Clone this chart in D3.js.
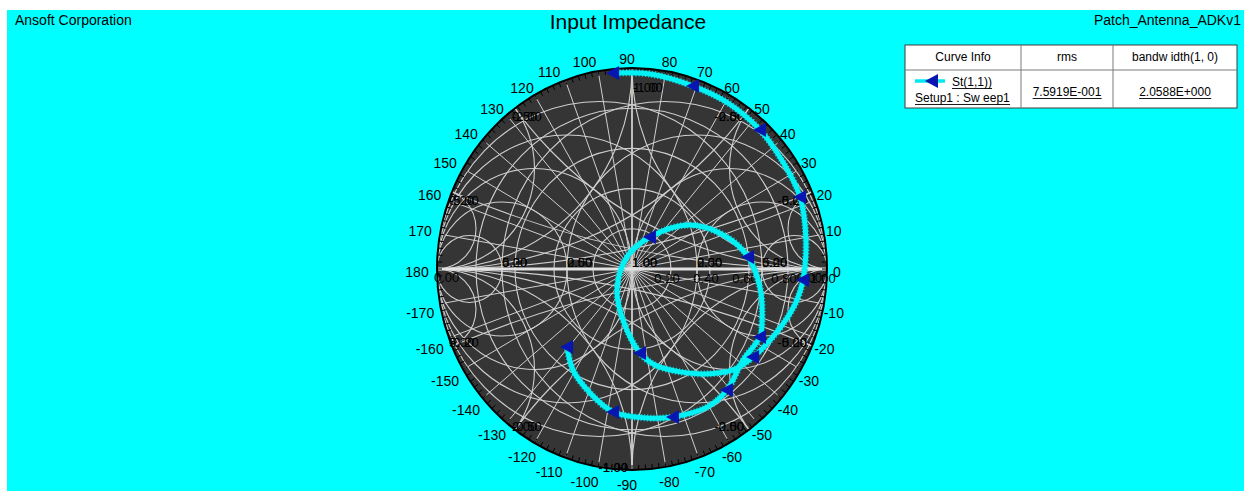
<!DOCTYPE html>
<html>
<head>
<meta charset="utf-8">
<script src="https://cdn.jsdelivr.net/npm/d3@7"></script>
<style>
  html, body { margin: 0; padding: 0; background: #ffffff; }
  svg { display: block; font-family: "Liberation Sans", Arial, sans-serif; }
</style>
</head>
<body>
<svg id="chart" width="1247" height="493"></svg>
<script>
// S(1,1) reflection coefficient trace (real / imaginary parts of Gamma)
const traceRe = [-0.097, 0.092, 0.313, 0.492, 0.656, 0.774, 0.862, 0.892, 0.877, 0.846,
                 0.795, 0.718, 0.621, 0.518, 0.374, 0.246, 0.118, 0.041, -0.046, -0.077,
                 -0.026, 0.092, 0.297, 0.487, 0.595, 0.656, 0.667, 0.656, 0.569, 0.487,
                 0.385, 0.210, 0.077, -0.097, -0.215, -0.303, -0.333];
const traceIm = [0.975, 0.970, 0.910, 0.826, 0.692, 0.532, 0.358, 0.144, -0.055, -0.154,
                 -0.244, -0.343, -0.438, -0.502, -0.522, -0.512, -0.478, -0.418, -0.254, -0.104,
                 0.060, 0.159, 0.219, 0.159, 0.060, -0.090, -0.254, -0.338, -0.453, -0.602,
                 -0.687, -0.736, -0.741, -0.711, -0.617, -0.502, -0.388];
// sweep points that carry a marker symbol
const markerIndex = [0, 2, 4, 6, 8, 12, 17, 21, 24, 27, 29, 31, 33, 36];

// Smith chart grid values
const gridValues = [0.2, 0.5, 1, 2, 5];
const rhoCircles = [0.2, 0.4, 0.6, 0.8];
const rhoLabels = [0.2, 0.4, 0.6, 0.8, 1.0];
const angleLabels = d3.range(-170, 181, 10);
const spokeAngles = d3.range(0, 360, 10);
const rimTicks = d3.range(0, 360, 2);

// legend content
const legendHeaders = ["Curve Info", "rms", "bandw idth(1, 0)"];
const legendCurve = ["St(1,1))", "Setup1 : Sw eep1"];
const legendValues = ["7.5919E-001", "2.0588E+000"];

const CX = 632, CY = 269, RX = 195, RY = 201;
const gx = d3.scaleLinear().domain([-1, 1]).range([CX - RX, CX + RX]);
const gy = d3.scaleLinear().domain([-1, 1]).range([CY + RY, CY - RY]);
const lenX = r => gx(r) - gx(0);
const lenY = r => gy(0) - gy(r);

const svg = d3.select("#chart");

// page background
svg.append("rect").attr("x", 7).attr("y", 10).attr("width", 1237).attr("height", 481)
  .attr("fill", "#00ffff");

svg.append("text").attr("x", 15).attr("y", 25).attr("font-size", 14).attr("fill", "#000")
  .text("Ansoft Corporation");
svg.append("text").attr("x", 628).attr("y", 29).attr("font-size", 21).attr("text-anchor", "middle")
  .attr("fill", "#000").text("Input Impedance");
svg.append("text").attr("x", 1241).attr("y", 25).attr("font-size", 14).attr("text-anchor", "end")
  .attr("fill", "#000").text("Patch_Antenna_ADKv1");

// ---------- legend table ----------
function underline(sel, y) {
  const bb = sel.node().getBBox();
  legend.append("line").attr("x1", bb.x).attr("x2", bb.x + bb.width)
    .attr("y1", y).attr("y2", y).attr("stroke", "#000").attr("stroke-width", 0.9);
}
const legend = svg.append("g");
legend.append("rect").attr("x", 905).attr("y", 45).attr("width", 332).attr("height", 63)
  .attr("fill", "#fff").attr("stroke", "#3c3c3c").attr("stroke-width", 1);
[1021, 1113].forEach(x => legend.append("line").attr("x1", x).attr("x2", x)
  .attr("y1", 45).attr("y2", 108).attr("stroke", "#7a7a7a"));
legend.append("line").attr("x1", 905).attr("x2", 1237).attr("y1", 70).attr("y2", 70)
  .attr("stroke", "#7a7a7a");
const colCenters = [963, 1067, 1175];
legendHeaders.forEach((h, i) => legend.append("text").attr("x", colCenters[i]).attr("y", 61)
  .attr("font-size", 12).attr("text-anchor", "middle").text(h));
legend.append("line").attr("x1", 915).attr("x2", 945).attr("y1", 81).attr("y2", 81)
  .attr("stroke", "#00e8f0").attr("stroke-width", 3.5);
legend.append("path").attr("transform", "translate(932,81)")
  .attr("d", "M-7,0L6,-7L6,7Z").attr("fill", "#0716b0");
const c1 = legend.append("text").attr("x", 952).attr("y", 86).attr("font-size", 12).text(legendCurve[0]);
underline(c1, 88.5);
const c2 = legend.append("text").attr("x", 915).attr("y", 102).attr("font-size", 12).text(legendCurve[1]);
underline(c2, 104.5);
legendValues.forEach((v, i) => {
  const t = legend.append("text").attr("x", colCenters[i + 1]).attr("y", 96).attr("font-size", 12)
    .attr("text-anchor", "middle").text(v);
  underline(t, 98.5);
});

// ---------- Smith chart ----------
const defs = svg.append("defs");
defs.append("clipPath").attr("id", "disc").append("ellipse")
  .attr("cx", gx(0)).attr("cy", gy(0)).attr("rx", lenX(1)).attr("ry", lenY(1));

svg.append("ellipse").attr("cx", gx(0)).attr("cy", gy(0)).attr("rx", lenX(1)).attr("ry", lenY(1))
  .attr("fill", "#353535");

const grid = svg.append("g").attr("clip-path", "url(#disc)")
  .attr("fill", "none").attr("stroke", "#cfcfcf").attr("stroke-width", 1.1);

function circle(c0, c1, r) {
  grid.append("ellipse").attr("cx", gx(c0)).attr("cy", gy(c1))
    .attr("rx", lenX(r)).attr("ry", lenY(r));
}

// polar spokes and constant |Gamma| circles
spokeAngles.forEach(a => {
  const t = a * Math.PI / 180;
  grid.append("line").attr("x1", gx(0)).attr("y1", gy(0))
    .attr("x2", gx(Math.cos(t))).attr("y2", gy(Math.sin(t)))
    .attr("stroke-width", (a === 90 || a === 270) ? 1.8 : 1);
});
rhoCircles.forEach(r => circle(0, 0, r));

// impedance (r, x) and admittance (g, b) circles
gridValues.forEach(v => {
  circle(v / (1 + v), 0, 1 / (1 + v));
  circle(-v / (1 + v), 0, 1 / (1 + v));
  circle(1, 1 / v, 1 / v);
  circle(1, -1 / v, 1 / v);
  circle(-1, 1 / v, 1 / v);
  circle(-1, -1 / v, 1 / v);
});
grid.append("line").attr("x1", gx(-1)).attr("x2", gx(1)).attr("y1", gy(0)).attr("y2", gy(0))
  .attr("stroke", "#e2e2e2").attr("stroke-width", 3);

// grid labels
const glab = svg.append("g").attr("font-size", 13).attr("fill", "#000");
const fmt = v => v.toFixed(2);
gridValues.forEach(v => {
  glab.append("text").attr("x", gx((v - 1) / (v + 1))).attr("y", gy(0) - 2).text(fmt(v));
  glab.append("text").attr("x", gx((1 - v) / (1 + v))).attr("y", gy(0) - 2).text(fmt(v));
});
rhoLabels.forEach(r => glab.append("text").attr("x", gx(r) - 4).attr("y", gy(0) + 14)
  .attr("text-anchor", "middle").text(fmt(r)));

function rimLabel(theta, txt) {
  const px = gx(Math.cos(theta)), py = gy(Math.sin(theta));
  const c = Math.cos(theta), s = Math.sin(theta);
  let x, y, anchor;
  if (Math.abs(c) < 1e-6) {
    if (s > 0) { x = px + 1; y = py + 24; anchor = "start"; }
    else { x = px - 4; y = py + 2; anchor = "end"; }
  } else {
    anchor = c < 0 ? "start" : "end";
    x = c < 0 ? px - 3 : px - 5;
    y = s > 1e-6 ? py + 13 : (s < -1e-6 ? py + 1 : py + 13);
  }
  glab.append("text").attr("x", x).attr("y", y).attr("text-anchor", anchor).text(txt);
}
gridValues.forEach(v => {
  const t = 2 * Math.atan(v);
  // reactance arcs
  rimLabel(Math.PI - t, fmt(v));
  rimLabel(-(Math.PI - t), "-" + fmt(v));
  // susceptance arcs
  rimLabel(t, "-" + fmt(v));
  rimLabel(-t, fmt(v));
});
rimLabel(Math.PI, "0.00");
rimLabel(0, "0.00");

// rim with degree ticks
const rim = svg.append("g").attr("stroke", "#000");
rim.append("ellipse").attr("cx", gx(0)).attr("cy", gy(0)).attr("rx", lenX(1)).attr("ry", lenY(1))
  .attr("fill", "none").attr("stroke-width", 2);
rimTicks.forEach(a => {
  const t = a * Math.PI / 180;
  const c = Math.cos(t), s = Math.sin(t);
  rim.append("line")
    .attr("x1", gx(c)).attr("y1", gy(s))
    .attr("x2", gx(c) - 5 * c).attr("y2", gy(s) + 5 * s)
    .attr("stroke-width", 1);
});

// angle labels around the chart
const alab = svg.append("g").attr("font-size", 14).attr("fill", "#000").attr("text-anchor", "middle");
angleLabels.forEach(a => {
  const t = a * Math.PI / 180;
  const c = Math.cos(t), s = Math.sin(t);
  let x = 627 + 210 * c;
  if (Math.abs(c) < 0.4 && Math.abs(c) > 1e-6) x += 6 * Math.sign(c);
  const b = 213 + 28 * Math.pow(c, 12);
  const y = 272 - b * s;
  alab.append("text").attr("x", x).attr("y", y).attr("dy", "0.36em").text(a);
});

// ---------- S(1,1) trace ----------
const pts = traceRe.map((r, i) => [gx(r), gy(traceIm[i])]);
const line = d3.line().curve(d3.curveCatmullRom.alpha(0.5));
svg.append("path").attr("d", line(pts)).attr("fill", "none")
  .attr("stroke", "#14c4d4").attr("stroke-width", 7).attr("stroke-dasharray", "1.2 2");
svg.append("path").attr("d", line(pts)).attr("fill", "none")
  .attr("stroke", "#00f2f4").attr("stroke-width", 5).attr("stroke-linecap", "butt");

svg.append("g").selectAll("path").data(markerIndex).join("path")
  .attr("transform", i => `translate(${pts[i][0]},${pts[i][1]})`)
  .attr("d", "M-7,0L6,-7L6,7Z")
  .attr("fill", "#0716b0");
</script>
</body>
</html>
